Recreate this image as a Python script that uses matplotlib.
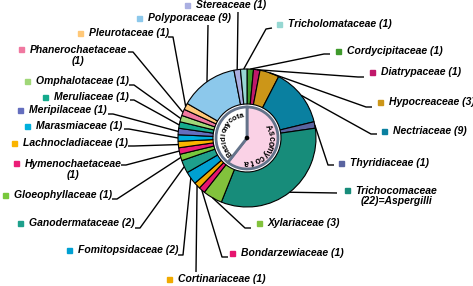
import numpy as np
import matplotlib
matplotlib.use('Agg')
import matplotlib.pyplot as plt
from matplotlib.patches import Rectangle, Circle

# ---------------- data ----------------
families = ['Cordycipitaceae', 'Diatrypaceae', 'Hypocreaceae', 'Nectriaceae',
            'Thyridiaceae', 'Trichocomaceae', 'Xylariaceae',
            'Bondarzewiaceae', 'Cortinariaceae', 'Fomitopsidaceae', 'Ganodermataceae',
            'Gloeophyllaceae', 'Hymenochaetaceae', 'Lachnocladiaceae', 'Marasmiaceae',
            'Meripilaceae', 'Meruliaceae', 'Omphalotaceae', 'Phanerochaetaceae',
            'Pleurotaceae', 'Polyporaceae', 'Stereaceae', 'Tricholomataceae']
counts = [1, 1, 3, 9, 1, 22, 3,
          1, 1, 2, 2, 1, 1, 1, 1, 1, 1, 1, 1, 1, 9, 1, 1]
phyla = ['Ascomycota'] * 7 + ['Basidiomycota'] * 16
labels = ['Cordycipitaceae (1)', 'Diatrypaceae (1)', 'Hypocreaceae (3)', 'Nectriaceae (9)',
          'Thyridiaceae (1)', 'Trichocomaceae\n(22)=Aspergilli', 'Xylariaceae (3)',
          'Bondarzewiaceae (1)', 'Cortinariaceae (1)', 'Fomitopsidaceae (2)',
          'Ganodermataceae (2)', 'Gloeophyllaceae (1)', 'Hymenochaetaceae\n(1)',
          'Lachnocladiaceae (1)', 'Marasmiaceae (1)', 'Meripilaceae (1)', 'Meruliaceae (1)',
          'Omphalotaceae (1)', 'Phanerochaetaceae\n(1)', 'Pleurotaceae (1)',
          'Polyporaceae (9)', 'Stereaceae (1)', 'Tricholomataceae (1)']
phylum_names = ['Ascomycota', 'Basidiomycota']

# ---------------- style ----------------
colors = ['#3F9A2C', '#C0186A', '#CC9618', '#0A80A0', '#5A64A0', '#178C7A', '#82C23C',
          '#E6146E', '#F0AA00', '#00A0D2', '#1EA08C', '#78C83C', '#EB1E78', '#FAB400',
          '#00AFDC', '#646EBE', '#14AA8C', '#A0D778', '#F078A0', '#FFC878', '#8CC8EB',
          '#AAAFE1', '#96D7D2']
phylum_colors = ['#FAD2E6', '#FFFFFF']
grey = '#64738A'

# label layout in pixel coords: marker centre x, marker y, text-block centre y
mark_x = [338, 372, 380, 384, 341, 347, 259,
          232, 169, 69, 20, 5, 16, 14, 27, 20, 45, 27, 21, 80, 139, 187, 279]
mark_y = [51, 72, 102, 131, 163, 190, 223,
          253, 279, 250, 223, 195, 163, 143, 126, 110, 97, 81, 49, 33, 18, 5, 24]
text_y = [51, 72, 102, 131, 163, 196, 223,
          253, 279, 250, 223, 195, 169.5, 143, 126, 110, 97, 81, 55.5, 33, 18, 5.5, 24]
leaders = [[(324, 54), (330, 54)], [(358, 77), (364, 77)], [(366, 107), (372, 107)],
           [(371, 134), (377, 134)], [(328, 165), (334, 165)], [(337, 193)],
           [(245, 228), (251, 228)],
           [(222, 257), (228, 257)], [(196, 272)], [(183, 255), (178, 255)],
           [(140, 228), (135, 228)], [(117, 199), (112, 199)], [(126, 165), (121, 165)],
           [(134, 146), (128, 146)], [(129, 129), (124, 129)], [(113, 114), (108, 114)],
           [(134, 100), (130, 100)], [(134, 85), (129, 85)], [(133, 52), (128, 52)],
           [(173, 37), (168, 37)], [(208, 25)], [(238, 12)], [(266, 29), (272, 28)]]

W, H = 473, 286
fig = plt.figure(figsize=(W / 100, H / 100), dpi=100)
ax = fig.add_axes([0, 0, 1, 1])

cx, cy = 247, 138
R_out, R_in, R_core = 69, 34, 31

ax.pie(counts, radius=R_out, center=(cx, H - cy), startangle=90, counterclock=False,
       colors=colors, wedgeprops=dict(width=R_out - R_in, edgecolor='black', linewidth=0.8))

phylum_totals = [sum(c for c, p in zip(counts, phyla) if p == n) for n in phylum_names]
ax.pie(phylum_totals, radius=R_core, center=(cx, H - cy), startangle=90, counterclock=False,
       colors=phylum_colors, wedgeprops=dict(edgecolor=grey, linewidth=2.0))
ax.add_patch(Circle((cx, H - cy), 1.6, color='black', zorder=5))

# leader lines
total = sum(counts)
cum = np.cumsum(counts)
mids = 360.0 * (cum - np.array(counts) / 2.0) / total
for m, pts in zip(mids, leaders):
    t = np.radians(m)
    px, py = cx + R_out * np.sin(t), cy - R_out * np.cos(t)
    xs = [px] + [p[0] for p in pts]
    ys = [py] + [p[1] for p in pts]
    ax.plot(xs, [H - y for y in ys], color='black', lw=1.0, solid_capstyle='butt', zorder=4)

# markers and labels
for lab, col, mx, my, ty in zip(labels, colors, mark_x, mark_y, text_y):
    ax.add_patch(Rectangle((mx - 2.5, H - my - 2.5), 5, 5, color=col, zorder=4))
    ax.text(mx + 8.5, H - ty, lab, fontsize=7.5, fontweight='bold', fontstyle='italic',
            family='Liberation Sans', ha='left', va='center', multialignment='center',
            linespacing=1.1, color='black')

# curved phylum names
def arc_text(s, a0, a1, r, size):
    n = len(s)
    for i, ch in enumerate(s):
        a = a0 + (a1 - a0) * (i + 0.5) / n
        t = np.radians(a)
        x = cx + r * np.sin(t)
        y = cy - r * np.cos(t)
        ax.text(x, H - y, ch, rotation=-a, rotation_mode='anchor', ha='center', va='center',
                fontsize=size, fontweight='bold', family='Liberation Sans', color='black', zorder=6)

arc_text('Ascomycota', 58, 188, 24, 6.2)
arc_text('Basidiomycota', 226, 352, 23, 5.6)

ax.set_xlim(0, W)
ax.set_ylim(0, H)
ax.set_aspect('equal')
ax.axis('off')
fig.savefig('out.png', dpi=100)
